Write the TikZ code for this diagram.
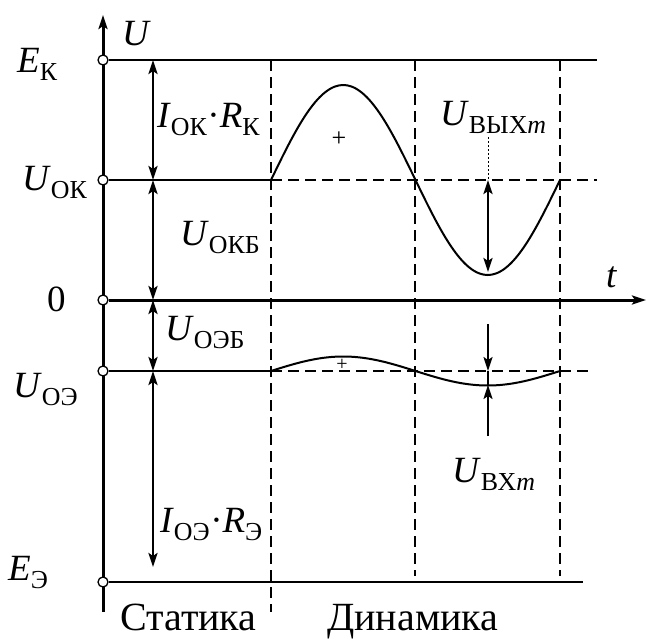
\documentclass[tikz,border=0pt]{standalone}
\usepackage{fontspec}
\setmainfont{Liberation Serif}
\usetikzlibrary{arrows.meta, positioning, calc}

\newcommand{\vsub}[2]{\textit{#1}\textsubscript{#2}}

\begin{document}
\begin{tikzpicture}[
    x=1pt, y=-1pt,
    font=\fontsize{37}{40}\selectfont,
    >={Stealth[length=14pt,width=9pt,inset=3pt]},
    lbl/.style   = {anchor=base west, inner sep=0pt},
    region/.style= {lbl, font=\fontsize{40}{42}\selectfont},
    pin/.style   = {circle, draw, fill=white, line width=1.3pt,
                    minimum size=10pt, inner sep=0pt},
    axis/.style  = {line width=3pt},
    level/.style = {line width=1.3pt},
    guide/.style = {line width=1.3pt, dash pattern=on 11pt off 6pt},
    wave/.style  = {line width=2pt},
    dim/.style   = {<->, line width=2.5pt},
    leader/.style= {line width=1pt, dash pattern=on 2pt off 2pt}
]
\useasboundingbox (0,0) rectangle (648,641);

% U axis
\coordinate (uBot) at (103,612);
\coordinate (uTop) at (103,15);
\draw[axis,->] (uBot) -- (uTop);

% levels on the axis
\node[pin] (pEk)   at (103,60)  {};
\node[pin] (pUok)  at (103,180) {};
\node[pin] (pZero) at (103,300) {};
\node[pin] (pUoe)  at (103,371) {};
\node[pin] (pEe)   at (103,582) {};

\coordinate (ekEnd)  at (597,60);
\coordinate (okMid)  at (271,180);
\coordinate (okEnd)  at (597,180);
\coordinate (tEnd)   at (646,300);
\coordinate (oeMid)  at (271,371);
\coordinate (oeEnd)  at (588,371);
\coordinate (eeEnd)  at (583,582);

\draw[level] (pEk) -- (ekEnd);
\draw[level] (pUok) -- (okMid);
\draw[guide] (okMid) -- (okEnd);
\draw[axis,->] (pZero) -- (tEnd);
\draw[level] (pUoe) -- (oeMid);
\draw[guide] (oeMid) -- (oeEnd);
\draw[level] (pEe) -- (eeEnd);

% statics / dynamics boundaries
\coordinate (s1Top) at (271,60);  \coordinate (s1Bot) at (271,612);
\coordinate (s2Top) at (415,60);  \coordinate (s2Bot) at (415,576);
\coordinate (s3Top) at (560,60);  \coordinate (s3Bot) at (560,576);
\draw[guide] (s1Top) -- (s1Bot);
\draw[guide] (s2Top) -- (s2Bot);
\draw[guide] (s3Top) -- (s3Bot);

% static voltage drops
\coordinate (d0) at (153,60);
\coordinate (d1) at (153,180);
\coordinate (d2) at (153,300);
\coordinate (d3) at (153,371);
\coordinate (d4) at (153,567);
\draw[dim] (d0) -- (d1);
\draw[dim] (d1) -- (d2);
\draw[dim] (d2) -- (d3);
\draw[dim] (d3) -- (d4);

% output and input signals
\draw[wave] plot[domain=0:360, samples=73, smooth]
    ({271+\x/360*289},{180-95*sin(\x)});
\draw[wave] plot[domain=0:360, samples=73, smooth]
    ({271+\x/360*289},{371-14.5*sin(\x)});

\node[font=\fontsize{26}{28}\selectfont] (plusOut) at (339,139) {+};
\node[font=\fontsize{20}{22}\selectfont] (plusIn)  at (342,365) {+};

% output amplitude
\coordinate (oTop) at (488,180);
\coordinate (oBot) at (488,272);
\draw[dim] (oTop) -- (oBot);
\node[lbl] (lOut) at (440,125) {\vsub{U}{ВЫХ\textit{m}}};
\coordinate (oLead) at (488,137);
\draw[leader] (oLead) -- (oTop);

% input amplitude
\coordinate (iTop) at (488,371);
\coordinate (iBot) at (488,385);
\coordinate (iA) at (488,324);
\coordinate (iB) at (488,436);
\draw[wave,->] (iA) -- (iTop);
\draw[wave,->] (iB) -- (iBot);
\draw[wave] (iTop) -- (iBot);
\node[lbl] (lIn) at (452,482) {\vsub{U}{ВХ\textit{m}}};

% axis labels
\node[lbl] (lU)    at (122,45)  {\textit{U}};
\node[lbl] (lt)    at (606,287) {\textit{t}};
\node[lbl] (lEk)   at (17,72)   {\vsub{E}{К}};
\node[lbl] (lUok)  at (22,190)  {\vsub{U}{ОК}};
\node[lbl] (lZero) at (47,311)  {0};
\node[lbl] (lUoe)  at (13,397)  {\vsub{U}{ОЭ}};
\node[lbl] (lEe)   at (8,580)   {\vsub{E}{Э}};

% drop labels
\node[lbl] (lIR1)  at (157,127) {\vsub{I}{ОК}·\vsub{R}{К}};
\node[lbl] (lUokb) at (180,245) {\vsub{U}{ОКБ}};
\node[lbl] (lUoeb) at (165,340) {\vsub{U}{ОЭБ}};
\node[lbl] (lIR2)  at (160,532) {\vsub{I}{ОЭ}·\vsub{R}{Э}};

% regions
\node[region] (lStat) at (120,630) {Статика};
\node[region] (lDyn)  at (327,630) {Динамика};

\end{tikzpicture}
\end{document}
